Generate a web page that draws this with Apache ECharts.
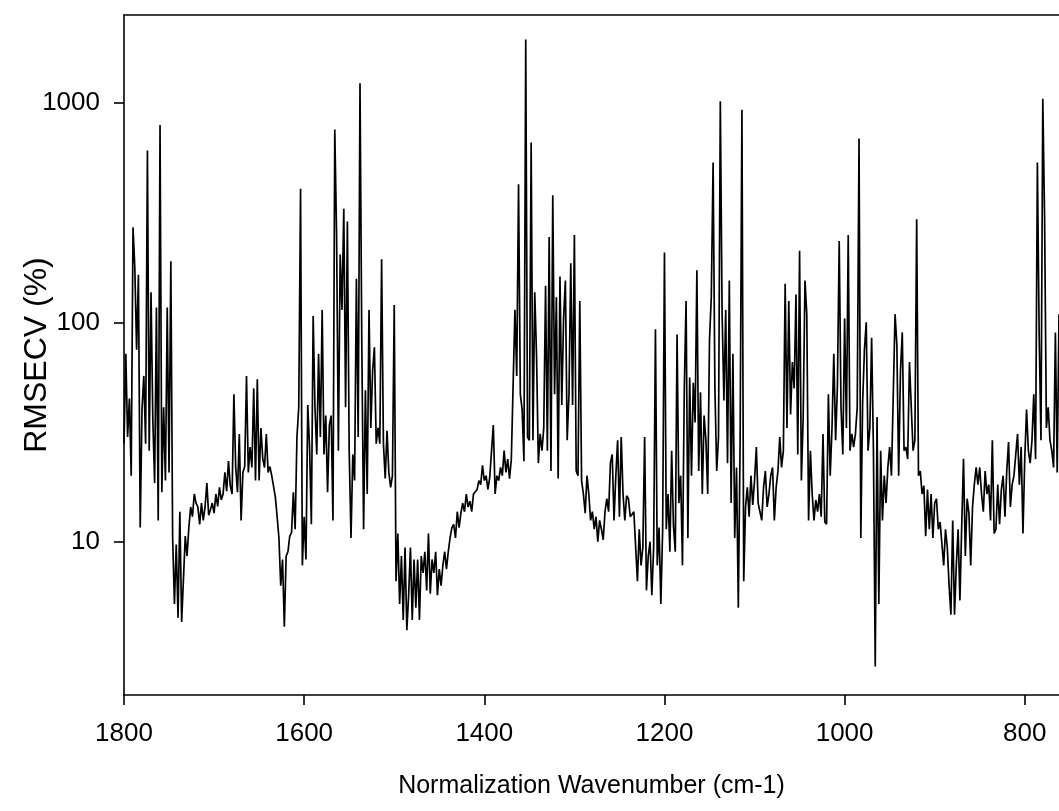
<!DOCTYPE html>
<html>
<head>
<meta charset="utf-8">
<script src="https://cdn.jsdelivr.net/npm/echarts@6/dist/echarts.min.js"></script>
<style>
html,body{margin:0;padding:0;background:#fff;}
#chart{width:1059px;height:811px;}
</style>
</head>
<body>
<div id="chart"></div>
<script>
// Sampling of the spectrum (cm-1)
const firstWavenumber = 1800;
const wavenumberStep = 2;
// RMSECV (%), one value per sample, from 1800 cm-1 downwards
const rmsecv = [
  28, 72, 30, 45, 20, 271, 178, 75, 165, 11.6,
  40, 57, 28, 608, 26, 137, 36, 18.5, 117, 12.5,
  794, 16.8, 41, 19, 117, 20.7, 190, 10.4, 5.2, 9.7,
  4.5, 13.7, 4.3, 4.3, 10.6, 8.6, 11.6, 14.4, 13, 16.5,
  15, 14.4, 12, 15, 12.5, 14.4, 18.5, 13.2, 14, 15,
  13.5, 16.5, 14.5, 17.7, 15.5, 16.5, 20.7, 17, 23.3, 18,
  16.5, 47, 21.8, 16.8, 31, 12.5, 20.7, 22, 57, 20.7,
  27, 21.8, 50, 19, 55, 19, 33, 24, 21.8, 31,
  20.7, 22, 20, 20.3, 16, 13, 10.4, 6.3, 8.3, 4.1,
  8.6, 9, 10.6, 11, 16.8, 11.4, 30, 41, 407, 7.8,
  13, 8.3, 42, 27, 12, 107, 41, 25, 72, 30,
  114, 25, 37.6, 16.8, 34, 37.6, 12.5, 758, 250, 26,
  204, 114, 330, 41, 288, 26, 10.4, 25, 19, 158,
  30, 1230, 79, 11.4, 49, 16.5, 114, 33, 60, 77,
  28, 33, 28, 194, 28, 19.4, 32, 20.7, 17.7, 20,
  120, 6.6, 10.9, 5.2, 8.6, 4.4, 9.4, 3.95, 5.7, 9.4,
  4.4, 8.3, 5, 8.3, 4.4, 8.6, 7.2, 9, 6, 10.9,
  5.8, 8.3, 7.2, 9, 5.7, 7.5, 6.3, 7.8, 9, 7.5,
  9, 10.4, 11.6, 12, 10.4, 13.7, 11.6, 13.5, 15, 13.7,
  16.5, 14.4, 15.3, 13.7, 16.5, 16.2, 17.3, 19, 18.2, 22.3,
  19, 20, 17.3, 19.6, 20, 34, 16.5, 20, 19, 21.8,
  20, 26, 20.7, 23.8, 19.4, 23.8, 24, 114, 57, 426,
  47, 40, 23.3, 1950, 30, 29, 660, 29, 137, 70,
  22.8, 31, 26, 33, 147, 26, 245, 21, 380, 47,
  130, 19.4, 162, 42, 104, 155, 29, 47, 186, 42,
  250, 21, 20, 125, 19, 16.5, 13.5, 20, 16.5, 12.5,
  13.7, 11.4, 13, 10, 12.5, 11.4, 10.2, 13.7, 15.7, 13.7,
  22.8, 25, 12.5, 20, 29, 13, 30, 16.5, 12.5, 16.2,
  15.7, 13, 13.3, 13.7, 13.7, 6.6, 11.4, 7.8, 9.4, 30,
  6, 8.6, 10, 5.7, 9.4, 93, 7.8, 11.6, 5.2, 11.4,
  208, 11.4, 16.5, 9, 26, 11.8, 9, 88, 15, 20,
  7.8, 49, 125, 10.4, 56, 20, 53, 35, 173, 21,
  48, 16.5, 37.6, 29, 16.5, 83, 131, 536, 50, 21,
  30, 1020, 110, 44, 114, 22.8, 155, 15, 72, 10.4,
  21.8, 5, 29, 933, 6.6, 14.4, 17.7, 13, 20, 14.7,
  19, 27, 15, 13.7, 12.5, 17.7, 21, 14.4, 16.5, 20,
  21.8, 12.5, 17.7, 21, 30, 21.8, 26, 150, 33, 125,
  38, 66, 50, 134, 25, 212, 19, 37, 155, 109,
  12.5, 26, 16.5, 12.5, 15.5, 13.7, 16.5, 13, 31, 12.3,
  12, 47, 20, 33, 72, 29, 51, 235, 41, 25,
  104, 33, 250, 26, 31, 27, 31, 41, 690, 10.4,
  43, 75, 100, 26, 33, 85, 26, 2.7, 37, 5.2,
  26, 12.5, 20, 15, 21.8, 27, 20, 20, 109, 79,
  20, 60, 90, 26, 27, 23.8, 66, 41, 26, 29,
  295, 20, 21, 16.5, 18, 10.6, 17.3, 11.4, 16.5, 10.4,
  15, 15.7, 11.4, 12.3, 12.3, 7.8, 11.4, 9.4, 6.3, 4.65,
  12.5, 4.65, 7.8, 11.4, 5.4, 11.8, 23.9, 8.6, 15.7, 13.5,
  7.8, 14.4, 18.2, 21.8, 18.2, 21.8, 16.5, 13.7, 21, 16.5,
  18.2, 12.5, 29, 10.9, 11.4, 18.2, 12, 17.3, 20, 13,
  21, 28.5, 14.4, 18.2, 20, 25, 31, 18.2, 27, 10.9,
  24, 40, 26, 22.8, 29, 47, 23.8, 536, 87, 29,
  1047, 300, 33, 41, 29, 26, 21.8, 90, 20.7, 109
];
const xTickValues = [1800, 1600, 1400, 1200, 1000, 800];
const yTickValues = [10, 100, 1000];
const xRange = [762, 1800];
const yRange = [2, 2520];

const points = rmsecv.map((v, i) => [firstWavenumber - wavenumberStep * i, v]);

const FONT = "'Liberation Sans', Arial, sans-serif";
const plain = (v) => String(v);
const chart = echarts.init(document.getElementById('chart'), null, {renderer: 'canvas'});
chart.setOption({
  animation: false,
  backgroundColor: '#fff',
  grid: {left: 124, top: 15, right: 0, bottom: 116, containLabel: false, outerBoundsMode: 'none'},
  xAxis: [{
    type: 'value', inverse: true, min: xRange[0], max: xRange[1],
    name: 'Normalization Wavenumber (cm-1)', nameLocation: 'middle', nameGap: 79, nameMoveOverlap: false,
    nameTextStyle: {fontFamily: FONT, fontSize: 25, color: '#000'},
    axisLine: {show: true, onZero: false, lineStyle: {color: '#000', width: 1.6}},
    axisTick: {show: true, length: 10, inside: false, customValues: xTickValues, lineStyle: {color: '#000', width: 1.6}},
    axisLabel: {show: true, customValues: xTickValues, formatter: plain, margin: 26, fontFamily: FONT, fontSize: 26, color: '#000', hideOverlap: false},
    splitLine: {show: false}, minorTick: {show: false}
  }, {
    type: 'value', inverse: true, min: xRange[0], max: xRange[1], position: 'top',
    axisLine: {show: true, onZero: false, lineStyle: {color: '#000', width: 1.6}},
    axisTick: {show: false}, axisLabel: {show: false}, splitLine: {show: false}
  }],
  yAxis: {
    type: 'log', logBase: 10, min: yRange[0], max: yRange[1],
    name: 'RMSECV (%)', nameLocation: 'middle', nameGap: 71, nameMoveOverlap: false,
    nameTextStyle: {fontFamily: FONT, fontSize: 32, color: '#000'},
    axisLine: {show: true, onZero: false, lineStyle: {color: '#000', width: 1.6}},
    axisTick: {show: true, length: 10, inside: false, customValues: yTickValues, lineStyle: {color: '#000', width: 1.6}},
    axisLabel: {show: true, customValues: yTickValues, formatter: plain, margin: 24, fontFamily: FONT, fontSize: 26, color: '#000'},
    splitLine: {show: false}, minorTick: {show: false}
  },
  series: [{
    type: 'line', xAxisIndex: 0, data: points, showSymbol: false, symbol: 'none',
    lineStyle: {color: '#000', width: 1.7}, clip: true
  }]
});
</script>
</body>
</html>
